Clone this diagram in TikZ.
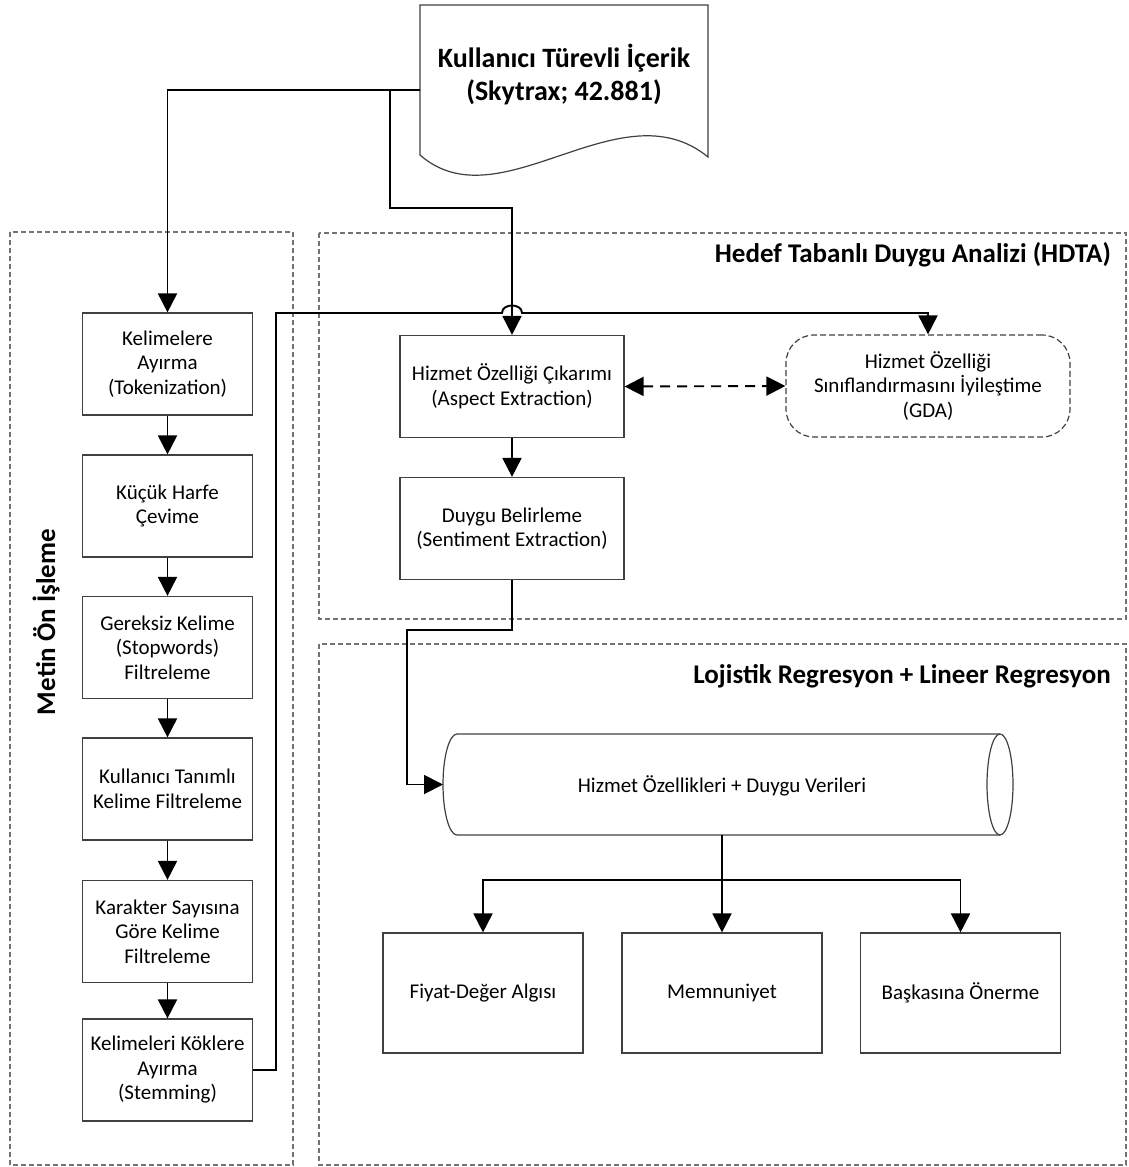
\documentclass[tikz,border=0pt]{standalone}
\usepackage{fontspec}
\setmainfont{Carlito}
\usetikzlibrary{arrows.meta}
\newcommand\bxfont{\fontsize{21}{24.5}\selectfont}
\newcommand\ttlfont{\fontsize{27}{33}\selectfont\bfseries}
\newcommand\docfont{\fontsize{28}{33}\selectfont\bfseries}
\begin{document}
\begin{tikzpicture}[x=1pt,y=-1pt,
  pbox/.style={draw=black!75, line width=1.2pt, minimum width=170pt, minimum height=102pt,
               inner sep=2pt, align=center, font=\bxfont},
  abox/.style={pbox, minimum width=224pt, minimum height=102pt},
  obox/.style={pbox, minimum width=200pt, minimum height=120pt},
  gbox/.style={pbox, minimum width=284pt, minimum height=102pt, rounded corners=28pt,
               dash pattern=on 6pt off 3pt},
  group/.style={draw=black!55, line width=1.1pt, dash pattern=on 5pt off 3pt},
  conn/.style={line width=1.9pt, -{Triangle[length=19pt,width=19pt]}},
  plain/.style={line width=1.9pt},
  ttl/.style={font=\ttlfont, inner sep=0pt}
]
\useasboundingbox (0,0) rectangle (1129,1167);

% group frames
\draw[group] (10,232) rectangle (293,1165);
\draw[group] (319,233) rectangle (1126,619);
\draw[group] (319,644) rectangle (1126,1165);

\node[ttl, anchor=base east] (hdta) at (1111,262) {Hedef Tabanlı Duygu Analizi (HDTA)};
\node[ttl, anchor=base east] (lr) at (1111,683) {Lojistik Regresyon + Lineer Regresyon};
\node[ttl, rotate=90] (pre) at (46,622) {Metin Ön İşleme};

% source document
\draw[line width=1.2pt, draw=black!75, fill=white]
  (420,5) -- (708,5) -- (708,157)
  .. controls (620,85) and (500,225) .. (420,155) -- cycle;
\node[ttl, font=\docfont, align=center] (doc) at (564,74) {Kullanıcı Türevli İçerik\\(Skytrax; 42.881)};
\coordinate (docw) at (420,90);
\coordinate (split) at (390,90);

% preprocessing steps
\node[pbox] (tok)  at (167.5,364)  {Kelimelere\\Ayırma\\(Tokenization)};
\node[pbox] (kuc)  at (167.5,506)  {Küçük Harfe\\Çevime};
\node[pbox] (ger)  at (167.5,647.5){Gereksiz Kelime\\(Stopwords)\\Filtreleme};
\node[pbox] (kul)  at (167.5,789)  {Kullanıcı Tanımlı\\Kelime Filtreleme};
\node[pbox] (kar)  at (167.5,931.5){Karakter Sayısına\\Göre Kelime\\Filtreleme};
\node[pbox] (stem) at (167.5,1070) {Kelimeleri Köklere\\Ayırma\\(Stemming)};

% aspect based sentiment analysis
\node[abox] (asp) at (512,386.5) {Hizmet Özelliği Çıkarımı\\(Aspect Extraction)};
\node[abox] (duy) at (512,528.5) {Duygu Belirleme\\(Sentiment Extraction)};
\node[gbox] (gda) at (928,386) {Hizmet Özelliği\\Sınıflandırmasını İyileştime\\(GDA)};

% data store (horizontal cylinder)
\draw[line width=1.2pt, draw=black!75]
  (457,734) -- (1000,734)
  (457,835) -- (1000,835)
  (457,734) .. controls (449.3,734) and (443,756.6) .. (443,784.5)
            .. controls (443,812.4) and (449.3,835) .. (457,835);
\draw[line width=1.2pt, draw=black!75] (1000,784.5) ellipse [x radius=13, y radius=50.5];
\node[font=\bxfont, inner sep=0pt] (cyl) at (722,786) {Hizmet Özellikleri + Duygu Verileri};
\coordinate (cylw) at (443,784.5);
\coordinate (cyls) at (722,835);

% outcomes
\node[obox] (fiy) at (483,993)   {Fiyat-Değer Algısı};
\node[obox] (mem) at (722,993)   {Memnuniyet};
\node[obox] (bas) at (960.5,993) {Başkasına Önerme};

% connectors
\draw[conn] (docw) -- (167.5,90) -- (tok.north);
\draw[plain] (split) -- (390,208) -- (512,208) -- (512,300);
\draw[conn] (512,300) -- (asp.north);
\draw[conn] (tok) -- (kuc);
\draw[conn] (kuc) -- (ger);
\draw[conn] (ger) -- (kul);
\draw[conn] (kul) -- (kar);
\draw[conn] (kar) -- (stem);
\draw[conn] (stem.east) -- (276,1070) -- (276,313) -- (502,313)
  .. controls (502,303) and (522,303) .. (522,313) -- (928,313) -- (gda.north);
\draw[conn] (asp) -- (duy);
\draw[line width=1.9pt, dash pattern=on 10pt off 7pt,
      {Triangle[length=19pt,width=19pt]}-{Triangle[length=19pt,width=19pt]}]
  (asp.east) -- (gda.west);
\draw[conn] (duy.south) -- (512,630) -- (407,630) -- (407,784.5) -- (cylw);
\draw[conn] (cyls) -- (mem.north);
\draw[conn] (722,880) -- (483,880) -- (fiy.north);
\draw[conn] (722,880) -- (960.5,880) -- (bas.north);
\end{tikzpicture}
\end{document}
